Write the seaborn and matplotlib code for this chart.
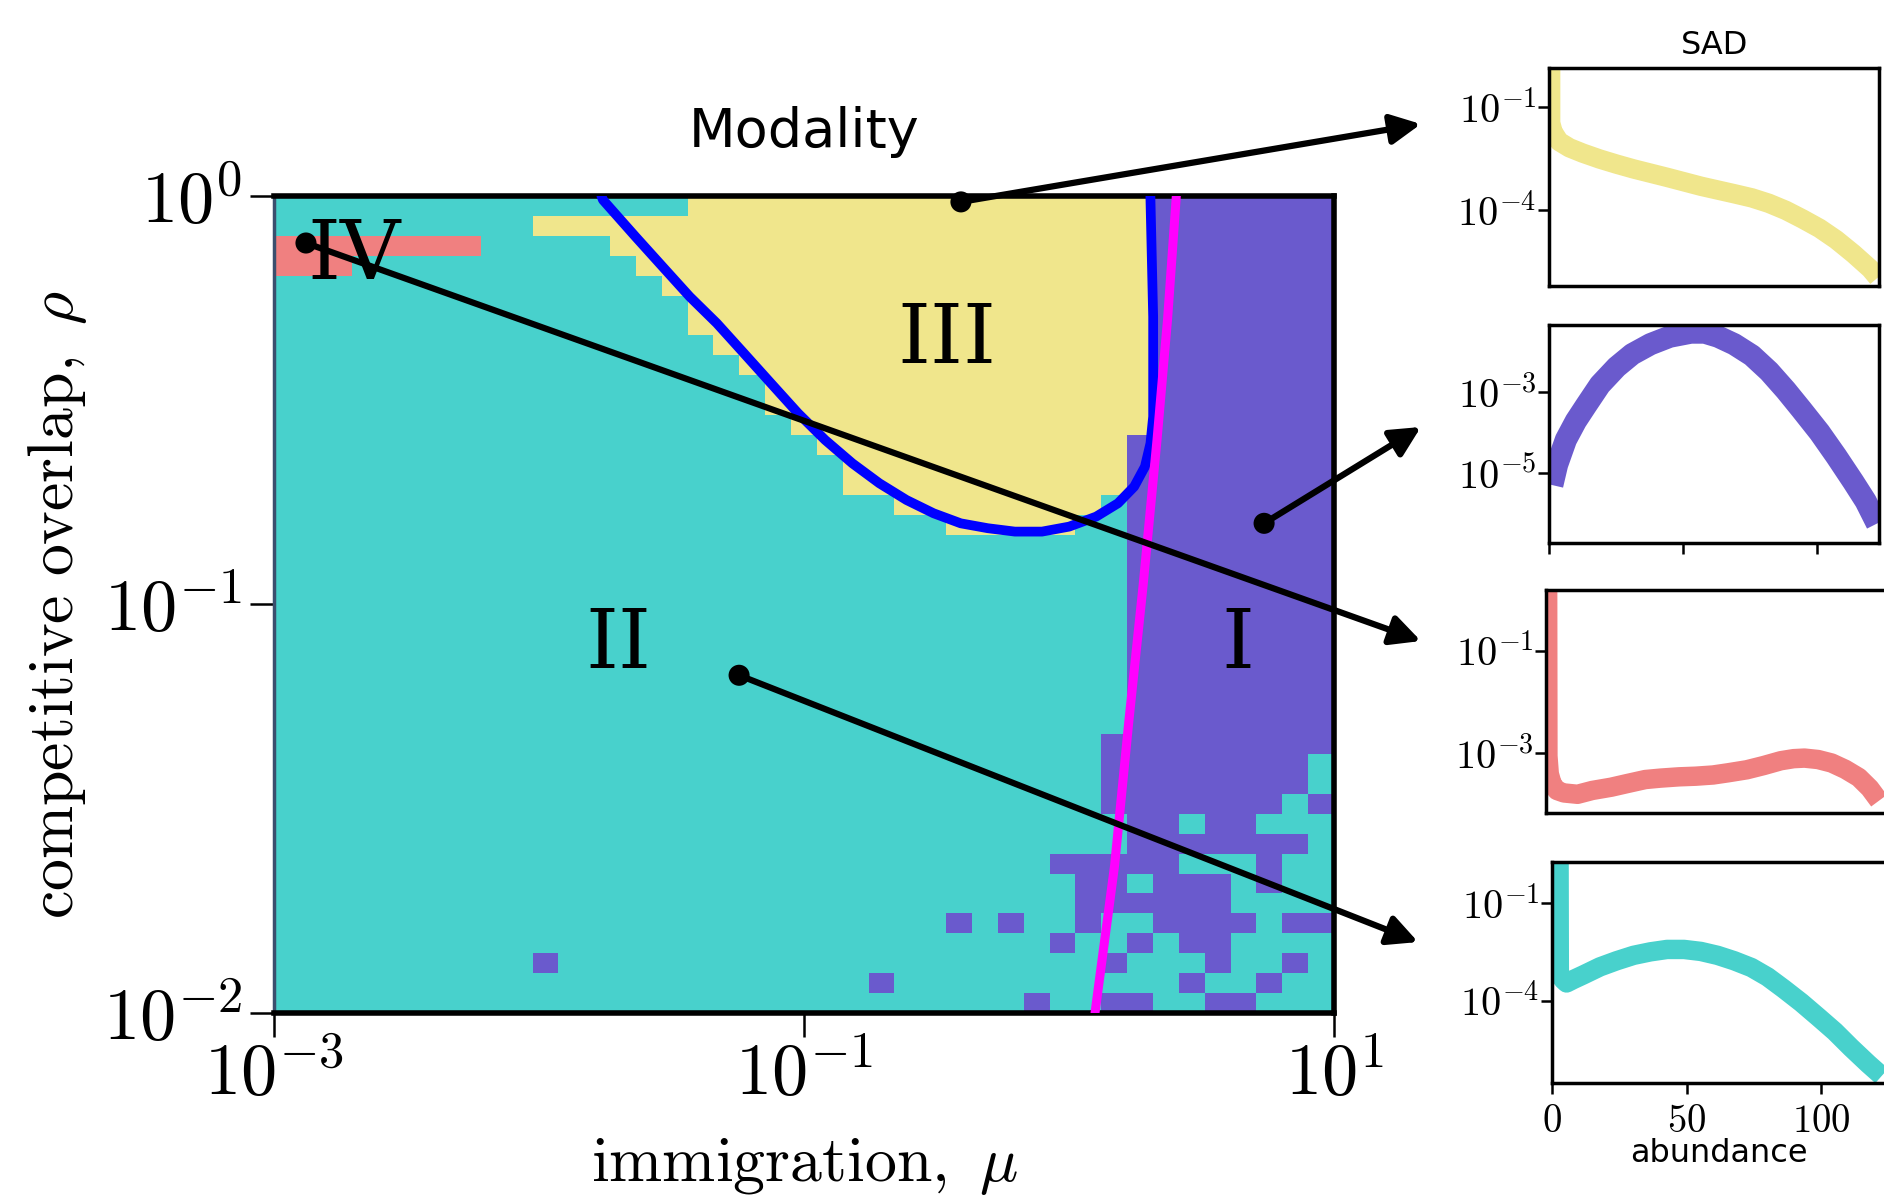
import numpy as np
import matplotlib
matplotlib.use("Agg")
import matplotlib.pyplot as plt
from matplotlib.colors import ListedColormap
from matplotlib.patches import ConnectionPatch
from matplotlib.ticker import FixedLocator, FuncFormatter, NullLocator
import seaborn as sns

# ---------------- data ----------------
# modality phase grid, 41 x 41 cells, log spaced
# rows listed from rho = 1 (top) to rho = 0.01 (bottom); columns mu = 1e-3 .. 1e1
# T: II (turquoise), P: I (purple), Y: III (yellow), R: IV (red)
mu_edges = np.logspace(-3, 1, 42)
rho_edges = np.logspace(-2, 0, 42)
phase_rows = [
    "TTTTTTTTTT" "TTTTTTYYYY" "YYYYYYYYYY" "YYYYPPPPPP" "P",
    "TTTTTTTTTT" "YYYYYYYYYY" "YYYYYYYYYY" "YYYYPPPPPP" "P",
    "RRRRRRRRTT" "TTTYYYYYYY" "YYYYYYYYYY" "YYYYPPPPPP" "P",
    "RRRTTTTTTT" "TTTTYYYYYY" "YYYYYYYYYY" "YYYYPPPPPP" "P",
    "TTTTTTTTTT" "TTTTTYYYYY" "YYYYYYYYYY" "YYYYPPPPPP" "P",
    "TTTTTTTTTT" "TTTTTTYYYY" "YYYYYYYYYY" "YYYYPPPPPP" "P",
    "TTTTTTTTTT" "TTTTTTYYYY" "YYYYYYYYYY" "YYYYPPPPPP" "P",
    "TTTTTTTTTT" "TTTTTTTYYY" "YYYYYYYYYY" "YYYYPPPPPP" "P",
    "TTTTTTTTTT" "TTTTTTTTYY" "YYYYYYYYYY" "YYYYPPPPPP" "P",
    "TTTTTTTTTT" "TTTTTTTTTY" "YYYYYYYYYY" "YYYYPPPPPP" "P",
    "TTTTTTTTTT" "TTTTTTTTTY" "YYYYYYYYYY" "YYYYPPPPPP" "P",
    "TTTTTTTTTT" "TTTTTTTTTT" "YYYYYYYYYY" "YYYYPPPPPP" "P",
    "TTTTTTTTTT" "TTTTTTTTTT" "TYYYYYYYYY" "YYYPPPPPPP" "P",
    "TTTTTTTTTT" "TTTTTTTTTT" "TTYYYYYYYY" "YYYPPPPPPP" "P",
    "TTTTTTTTTT" "TTTTTTTTTT" "TTYYYYYYYY" "YYYPPPPPPP" "P",
    "TTTTTTTTTT" "TTTTTTTTTT" "TTTTYYYYYY" "YYTPPPPPPP" "P",
    "TTTTTTTTTT" "TTTTTTTTTT" "TTTTTTYYYY" "YTTPPPPPPP" "P",
    "TTTTTTTTTT" "TTTTTTTTTT" "TTTTTTTTTT" "TTTPPPPPPP" "P",
    "TTTTTTTTTT" "TTTTTTTTTT" "TTTTTTTTTT" "TTTPPPPPPP" "P",
    "TTTTTTTTTT" "TTTTTTTTTT" "TTTTTTTTTT" "TTTPPPPPPP" "P",
    "TTTTTTTTTT" "TTTTTTTTTT" "TTTTTTTTTT" "TTTPPPPPPP" "P",
    "TTTTTTTTTT" "TTTTTTTTTT" "TTTTTTTTTT" "TTTPPPPPPP" "P",
    "TTTTTTTTTT" "TTTTTTTTTT" "TTTTTTTTTT" "TTTPPPPPPP" "P",
    "TTTTTTTTTT" "TTTTTTTTTT" "TTTTTTTTTT" "TTTPPPPPPP" "P",
    "TTTTTTTTTT" "TTTTTTTTTT" "TTTTTTTTTT" "TTTPPPPPPP" "P",
    "TTTTTTTTTT" "TTTTTTTTTT" "TTTTTTTTTT" "TTTPPPPPPP" "P",
    "TTTTTTTTTT" "TTTTTTTTTT" "TTTTTTTTTT" "TTTPPPPPPP" "P",
    "TTTTTTTTTT" "TTTTTTTTTT" "TTTTTTTTTT" "TTPPPPPPPP" "P",
    "TTTTTTTTTT" "TTTTTTTTTT" "TTTTTTTTTT" "TTPPPPPPPP" "T",
    "TTTTTTTTTT" "TTTTTTTTTT" "TTTTTTTTTT" "TTPPPPPPPP" "T",
    "TTTTTTTTTT" "TTTTTTTTTT" "TTTTTTTTTT" "TTPPPPPPPT" "P",
    "TTTTTTTTTT" "TTTTTTTTTT" "TTTTTTTTTT" "TTTPPTPPTT" "T",
    "TTTTTTTTTT" "TTTTTTTTTT" "TTTTTTTTTT" "TTTPPPPPPP" "T",
    "TTTTTTTTTT" "TTTTTTTTTT" "TTTTTTTTTT" "PPPPPTTTPT" "T",
    "TTTTTTTTTT" "TTTTTTTTTT" "TTTTTTTTTT" "TPPTPPPTPT" "T",
    "TTTTTTTTTT" "TTTTTTTTTT" "TTTTTTTTTT" "TPPPPPPTTT" "T",
    "TTTTTTTTTT" "TTTTTTTTTT" "TTTTTTPTPT" "TPTTPPPPTP" "P",
    "TTTTTTTTTT" "TTTTTTTTTT" "TTTTTTTTTT" "PTTPTPPTTT" "T",
    "TTTTTTTTTT" "PTTTTTTTTT" "TTTTTTTTTT" "TTPTTTPTTP" "T",
    "TTTTTTTTTT" "TTTTTTTTTT" "TTTPTTTTTT" "TTTTTPTTPT" "T",
    "TTTTTTTTTT" "TTTTTTTTTT" "TTTTTTTTTP" "TTPPTTPPTT" "T",
]
phase_codes = {"T": 0, "P": 1, "Y": 2, "R": 3}
phase_colors = ["#48D1CC", "#6A5ACD", "#F0E68C", "#F08080"]

# region III boundary (blue) and region I boundary (magenta)
blue_mu = [0.0172, 0.01744, 0.02313, 0.02926, 0.03704, 0.04688, 0.05933, 0.07505,
           0.0950, 0.1202, 0.1522, 0.1925, 0.2436, 0.3083, 0.3903, 0.4939, 0.6249,
           0.7909, 1.001, 1.266, 1.530, 1.761, 1.934, 2.029, 2.077, 2.077, 2.077,
           2.029, 2.028]
blue_rho = [1.0, 0.9777, 0.7950, 0.6714, 0.5670, 0.4880, 0.4121, 0.3479,
            0.2938, 0.2527, 0.2216, 0.1980, 0.1802, 0.1672, 0.1580, 0.1537, 0.1508,
            0.1508, 0.1551, 0.1641, 0.1769, 0.1943, 0.2175, 0.2480, 0.2883, 0.3479, 0.5064,
            0.9777, 1.0]
magenta_mu = [2.54, 2.355, 2.148, 1.905, 1.679, 1.486, 1.253]
magenta_rho = [1.0, 0.501, 0.253, 0.112, 0.0513, 0.0230, 0.0100]

region_labels = ["IV", "III", "II", "I"]
region_mu = [2.0e-3, 0.347, 0.020, 4.35]
region_rho = [0.713, 0.444, 0.0796, 0.0796]

# sample points (III, I, IV, II) linked to the SAD panels
dot_mu = [0.391, 5.445, 1.321e-3, 0.0569]
dot_rho = [0.967, 0.158, 0.767, 0.0671]

# species abundance distributions (abundance, probability)
sad_x_III = [0.6, 0.6, 1.5, 3.8, 7.6, 12.6, 18.9, 25.2, 31.5, 44.0, 56.7, 69.3, 75.6,
             81.9, 88.2, 94.5, 100.8, 107.0, 113.4, 119.7, 122.5]
sad_y_III = [2.0, 3.5e-2, 1.9e-2, 1.0e-2, 6.6e-3, 4.6e-3, 3.1e-3, 2.2e-3, 1.6e-3, 9.1e-4,
             5.0e-4, 3.0e-4, 2.3e-4, 1.6e-4, 1.0e-4, 5.6e-5, 3.0e-5, 1.4e-5, 5.5e-6,
             2.0e-6, 1.1e-6]
sad_x_I = [1.2, 3.0, 6.3, 10.0, 13.9, 19.0, 25.2, 31.0, 37.8, 45.0, 52.9, 58.0, 63.0,
           69.0, 75.6, 82.0, 88.2, 94.0, 100.8, 107.0, 113.4, 118.0, 122.2]
sad_y_I = [5.0e-6, 1.6e-5, 6.6e-5, 1.9e-4, 4.7e-4, 1.5e-3, 4.1e-3, 8.5e-3, 1.5e-2,
           2.3e-2, 2.9e-2, 2.9e-2, 2.3e-2, 1.5e-2, 7.9e-3, 3.2e-3, 1.1e-3, 3.7e-4,
           1.0e-4, 2.6e-5, 6.0e-6, 2.0e-6, 5.6e-7]
sad_x_IV = [0.6, 0.7, 1.2, 2.2, 4.0, 6.6, 11.6, 17.0, 24.0, 30.0, 36.5, 42.0, 48.9,
            55.0, 61.4, 67.0, 73.8, 80.0, 86.3, 91.0, 95.0, 100.0, 105.0, 110.0,
            115.0, 119.0, 122.4]
sad_y_IV = [2.5, 8.9e-4, 4.0e-4, 2.6e-4, 1.9e-4, 1.7e-4, 1.6e-4, 1.9e-4, 2.2e-4,
            2.6e-4, 3.1e-4, 3.3e-4, 3.5e-4, 3.6e-4, 3.8e-4, 4.2e-4, 4.8e-4, 5.8e-4,
            7.2e-4, 7.9e-4, 8.1e-4, 7.6e-4, 6.5e-4, 4.9e-4, 3.4e-4, 2.1e-4, 1.2e-4]
sad_x_II = [2.6, 2.7, 4.0, 5.4, 8.0, 11.6, 17.8, 24.0, 30.3, 36.5, 42.7, 49.0, 55.2,
            61.4, 67.6, 74.0, 80.0, 86.0, 92.5, 99.0, 105.0, 111.0, 117.4, 122.4]
sad_y_II = [3.2, 7.1e-4, 4.5e-4, 3.5e-4, 4.5e-4, 6.2e-4, 1.1e-3, 1.7e-3, 2.5e-3,
            3.2e-3, 3.8e-3, 3.8e-3, 3.3e-3, 2.5e-3, 1.7e-3, 1.05e-3, 5.4e-4, 2.3e-4,
            8.7e-5, 3.0e-5, 1.1e-5, 3.5e-6, 1.1e-6, 4.7e-7]

# ---------------- style ----------------
sns.set_style("ticks")
plt.rcParams["font.family"] = ["DejaVu Sans"]
plt.rcParams["mathtext.fontset"] = "cm"
plt.rcParams["text.color"] = "black"
plt.rcParams["axes.labelcolor"] = "black"
plt.rcParams["xtick.color"] = "black"
plt.rcParams["ytick.color"] = "black"


def pow10(v, pos):
    return r"$10^{%d}$" % int(round(np.log10(v)))


fig = plt.figure(figsize=(18.84, 11.97), dpi=100)

# ---------------- main phase diagram ----------------
ax = fig.add_axes([0.1454, 0.1537, 0.5627, 0.6826])
ax.set_xscale("log")
ax.set_yscale("log")
grid = np.array([[phase_codes[ch] for ch in row] for row in phase_rows[::-1]])
ax.pcolormesh(mu_edges, rho_edges, grid, cmap=ListedColormap(phase_colors),
              vmin=-0.5, vmax=3.5, shading="flat")

sns.lineplot(x=blue_mu, y=blue_rho, ax=ax, color="blue", lw=7,
             sort=False, estimator=None, zorder=3, solid_joinstyle="round")
sns.lineplot(x=magenta_mu, y=magenta_rho, ax=ax, color="magenta", lw=6.5,
             sort=False, estimator=None, zorder=3, solid_joinstyle="round")

for lab, m, r in zip(region_labels, region_mu, region_rho):
    ax.text(m, r, lab, ha="center", va="center", fontsize=60,
            family="DejaVu Serif", color="black", zorder=5)

ax.set_xlim(1e-3, 1e1)
ax.set_ylim(1e-2, 1)
ax.xaxis.set_major_locator(FixedLocator([1e-3, 1e-1, 1e1]))
ax.yaxis.set_major_locator(FixedLocator([1e-2, 1e-1, 1e0]))
ax.xaxis.set_minor_locator(NullLocator())
ax.yaxis.set_minor_locator(NullLocator())
ax.xaxis.set_major_formatter(FuncFormatter(pow10))
ax.yaxis.set_major_formatter(FuncFormatter(pow10))
ax.tick_params(axis="both", direction="out", length=17, width=1.8, labelsize=52)
ax.tick_params(axis="x", pad=3)
ax.tick_params(axis="y", pad=6)
ax.set_xlabel(r"$\mathrm{immigration},\ \mu$", fontsize=46, labelpad=18)
ax.set_ylabel(r"$\mathrm{competitive\ overlap},\ \rho$", fontsize=46, labelpad=10)
ax.set_title("Modality", fontsize=39, pad=35)
for side in ["top", "bottom", "right"]:
    ax.spines[side].set_color("black")
    ax.spines[side].set_linewidth(4)
ax.spines["left"].set_color("#3b4f6e")
ax.spines["left"].set_linewidth(2.5)

sns.scatterplot(x=dot_mu, y=dot_rho, ax=ax, color="black", s=230,
                edgecolor="none", clip_on=False, zorder=12)

# ---------------- SAD panels ----------------
panels = [
    (sad_x_III, sad_y_III, phase_colors[2], 14, (10 ** -6.2, 10 ** 0.14), [1e-4, 1e-1],
     [0.8222, 0.7611, 0.1752, 0.1821], 123),
    (sad_x_I, sad_y_I, phase_colors[1], 16, (10 ** -6.73, 10 ** -1.35), [1e-5, 1e-3],
     [0.8222, 0.5464, 0.1752, 0.1821], 123),
    (sad_x_IV, sad_y_IV, phase_colors[3], 14, (10 ** -4.16, 10 ** 0.18), [1e-3, 1e-1],
     [0.8206, 0.3208, 0.1805, 0.1863], 125),
    (sad_x_II, sad_y_II, phase_colors[0], 14, (10 ** -6.55, 10 ** 0.28), [1e-4, 1e-1],
     [0.8238, 0.0952, 0.1773, 0.1846], 124),
]
arrow_tips = [(0.7542, 0.8964), (0.7542, 0.6433), (0.7542, 0.4645), (0.7527, 0.2130)]

inset_axes = []
for k, (xs, ys, col, lw, ylim, yt, rect, xmax) in enumerate(panels):
    axi = fig.add_axes(rect)
    axi.set_yscale("log")
    sns.lineplot(x=xs, y=ys, ax=axi, color=col, lw=lw, sort=False,
                 estimator=None, solid_joinstyle="round", solid_capstyle="butt")
    axi.set_xlim(0, xmax)
    axi.set_ylim(*ylim)
    axi.yaxis.set_major_locator(FixedLocator(yt))
    axi.yaxis.set_minor_locator(NullLocator())
    axi.yaxis.set_major_formatter(FuncFormatter(pow10))
    axi.tick_params(axis="y", direction="out", length=8, width=1.8, labelsize=29, pad=1)
    if k in (1, 3):
        axi.xaxis.set_major_locator(FixedLocator([0, 50, 100]))
        axi.xaxis.set_major_formatter(FuncFormatter(lambda v, p: r"$%d$" % v))
        axi.tick_params(axis="x", direction="out", length=8, width=1.8, labelsize=28, pad=6)
        if k == 1:
            axi.tick_params(axis="x", labelbottom=False)
    else:
        axi.set_xticks([])
    axi.set_xlabel("")
    axi.set_ylabel("")
    for sp in axi.spines.values():
        sp.set_color("black")
        sp.set_linewidth(2.5)
    inset_axes.append(axi)

inset_axes[0].set_title("SAD", fontsize=23, pad=10)
inset_axes[3].set_xlabel("abundance", fontsize=23, labelpad=-2)

# arrows from sample points to their SAD panels
for m, r, tip in zip(dot_mu, dot_rho, arrow_tips):
    con = ConnectionPatch(xyA=(m, r), coordsA="data", axesA=ax,
                          xyB=tip, coordsB="figure fraction",
                          arrowstyle="-|>", mutation_scale=45, lw=4.5,
                          color="black", shrinkA=0, shrinkB=0, zorder=20)
    fig.add_artist(con)

fig.savefig("out.png", dpi=100)
plt.close(fig)
